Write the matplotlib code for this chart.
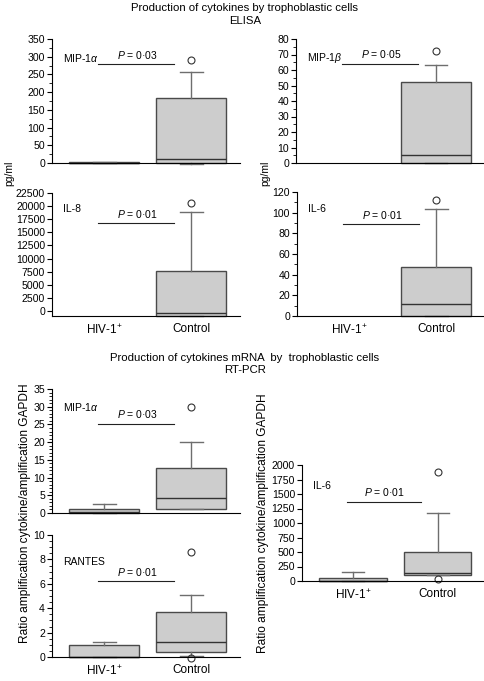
import numpy as np
import matplotlib.pyplot as plt
from matplotlib.ticker import MultipleLocator, NullLocator

plt.rcParams["font.family"] = ["Liberation Sans", "DejaVu Sans"]
plt.rcParams["mathtext.fontset"] = "custom"
plt.rcParams["mathtext.rm"] = "Liberation Sans"
plt.rcParams["mathtext.it"] = "Liberation Sans:italic"

W, H = 485, 681

groups = ["HIV-1$^{+}$", "Control"]

# box stats per group: [whisker low, q1, median, q3, whisker high]
# ELISA (pg/ml)
mip1a_elisa_hiv = [0, 0, 1, 2, 4]
mip1a_elisa_ctrl = [-4, 0, 10, 183, 257]
mip1a_elisa_out = [292]

mip1b_elisa_hiv = None
mip1b_elisa_ctrl = [0, 0, 5, 52, 63]
mip1b_elisa_out = [72]

il8_elisa_hiv = None
il8_elisa_ctrl = [-900, -900, -400, 7700, 18800]
il8_elisa_out = [20600]

il6_elisa_hiv = None
il6_elisa_ctrl = [0, 0, 12, 47, 104]
il6_elisa_out = [112]

# RT-PCR (ratio cytokine / GAPDH)
mip1a_pcr_hiv = [0, 0, 0.2, 1.2, 2.5]
mip1a_pcr_ctrl = [1, 1, 4.2, 12.7, 20]
mip1a_pcr_out = [30]

rantes_pcr_hiv = [0, 0, 0, 1.0, 1.2]
rantes_pcr_ctrl = [0.1, 0.4, 1.2, 3.7, 5.05]
rantes_pcr_out = [8.6, -0.05]

il6_pcr_hiv = [0, 0, 0, 60, 150]
il6_pcr_ctrl = [100, 100, 140, 500, 1180]
il6_pcr_out = [1880, 30]

# significance
p_texts = ["0·03", "0·05", "0·01", "0·01", "0·03", "0·01", "0·01"]
p_levels = [279, 64, 16700, 89, 25.2, 6.2, 1370]

FILL = "#cdcdcd"
EDGE = "#4a4a4a"
WHISK = "#6e6e6e"
MED = "#333333"


def rect(left, right, top, bottom):
    return [left / W, 1 - bottom / H, (right - left) / W, (bottom - top) / H]


def stats(vals, fliers=()):
    lo, q1, med, q3, hi = vals
    return dict(whislo=lo, q1=q1, med=med, q3=q3, whishi=hi, fliers=list(fliers))


def panel(r, hiv, ctrl, out, name, name_y, p_txt, p_y, ylim, major, minor, show_x):
    ax = fig.add_axes(rect(*r))
    data, pos = [], []
    if hiv is not None:
        data.append(stats(hiv))
        pos.append(1)
    data.append(stats(ctrl, out))
    pos.append(2)
    bp = ax.bxp(data, positions=pos, widths=0.8, patch_artist=True,
                capwidths=0.26, showfliers=True,
                boxprops=dict(facecolor=FILL, edgecolor=EDGE, linewidth=1.0),
                medianprops=dict(color=MED, linewidth=1.0),
                whiskerprops=dict(color=WHISK, linewidth=1.0),
                capprops=dict(color=WHISK, linewidth=1.0),
                flierprops=dict(marker="o", markerfacecolor="none",
                                markeredgecolor="#333333", markersize=5,
                                markeredgewidth=0.8))
    for key in bp:
        for art in bp[key]:
            art.set_clip_on(False)
    ax.set_xlim(0.40, 2.56)
    ax.set_ylim(*ylim)
    ax.yaxis.set_major_locator(MultipleLocator(major))
    if minor:
        ax.yaxis.set_minor_locator(MultipleLocator(minor))
    ax.set_yticks([t for t in ax.get_yticks() if ylim[0] - 1e-9 <= t <= ylim[1] + 1e-9])
    ax.spines["top"].set_visible(False)
    ax.spines["right"].set_visible(False)
    ax.tick_params(axis="y", which="major", direction="out", length=3.5,
                   width=0.8, labelsize=7.6, pad=1.5)
    ax.tick_params(axis="y", which="minor", direction="out", length=2, width=0.6)
    ax.tick_params(axis="x", length=0, labelsize=8.5, pad=5)
    if show_x:
        ax.set_xticks([1, 2])
        ax.set_xticklabels(groups)
    else:
        ax.set_xticks([])
    # panel name
    ax.text(0.06, name_y, name, transform=ax.transAxes, fontsize=7.5,
            va="center", ha="left")
    # significance bar
    ax.plot([0.93, 1.80], [p_y, p_y], color="#222222", linewidth=0.8)
    ax.annotate(r"$\it{P}$ = " + p_txt, xy=(1.38, p_y), xytext=(0, 2.5),
                textcoords="offset points", ha="center", va="bottom",
                fontsize=7.5)
    return ax


fig = plt.figure(figsize=(W / 100, H / 100), dpi=100)

# ELISA
panel((52, 240, 39, 163), mip1a_elisa_hiv, mip1a_elisa_ctrl, mip1a_elisa_out,
      r"MIP-1$\alpha$", 0.85, p_texts[0], p_levels[0], (0, 350), 50, 25, False)
panel((296, 485, 39, 163), mip1b_elisa_hiv, mip1b_elisa_ctrl, mip1b_elisa_out,
      r"MIP-1$\beta$", 0.85, p_texts[1], p_levels[1], (0, 80), 10, 5, False)
panel((52, 240, 193, 316), il8_elisa_hiv, il8_elisa_ctrl, il8_elisa_out,
      "IL-8", 0.87, p_texts[2], p_levels[2], (-960, 22500), 2500, None, True)
panel((297, 485, 192, 316), il6_elisa_hiv, il6_elisa_ctrl, il6_elisa_out,
      "IL-6", 0.86, p_texts[3], p_levels[3], (0, 120), 20, 10, True)

# RT-PCR
panel((52, 240, 389, 513), mip1a_pcr_hiv, mip1a_pcr_ctrl, mip1a_pcr_out,
      r"MIP-1$\alpha$", 0.855, p_texts[4], p_levels[4], (0, 35), 5, 1, False)
panel((52, 240, 535, 657), rantes_pcr_hiv, rantes_pcr_ctrl, rantes_pcr_out,
      "RANTES", 0.78, p_texts[5], p_levels[5], (0, 10), 2, 0.5, True)
panel((302, 485, 465, 581), il6_pcr_hiv, il6_pcr_ctrl, il6_pcr_out,
      "IL-6", 0.82, p_texts[6], p_levels[6], (0, 2000), 250, None, True)

# titles and axis labels
fig.text(245 / W, 1 - 8 / H, "Production of cytokines by trophoblastic cells",
         ha="center", va="center", fontsize=8.2)
fig.text(245 / W, 1 - 21 / H, "ELISA", ha="center", va="center", fontsize=8.2)
fig.text(245 / W, 1 - 358 / H, "Production of cytokines mRNA  by  trophoblastic cells",
         ha="center", va="center", fontsize=8.2)
fig.text(245 / W, 1 - 370 / H, "RT-PCR", ha="center", va="center", fontsize=8.2)

fig.text(9 / W, 1 - 173 / H, "pg/ml", rotation=90, ha="center", va="center", fontsize=7.5)
fig.text(265 / W, 1 - 173 / H, "pg/ml", rotation=90, ha="center", va="center", fontsize=7.5)
fig.text(25 / W, 1 - 513 / H, "Ratio amplification cytokine/amplification GAPDH",
         rotation=90, ha="center", va="center", fontsize=8.6)
fig.text(263 / W, 1 - 523 / H, "Ratio amplification cytokine/amplification GAPDH",
         rotation=90, ha="center", va="center", fontsize=8.6)

fig.savefig("out.png", dpi=100)
